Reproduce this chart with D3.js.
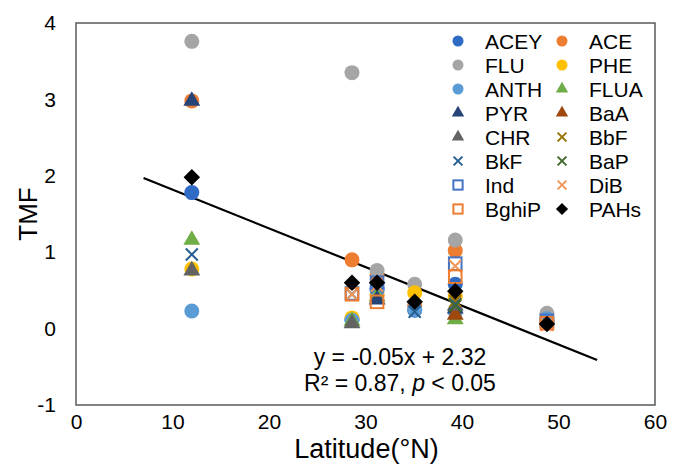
<!DOCTYPE html>
<html>
<head>
<meta charset="utf-8">
<script src="https://cdn.jsdelivr.net/npm/d3@7"></script>
<style>
  body { margin: 0; background: #fff; }
  text { font-family: "Liberation Sans", Arial, sans-serif; fill: #000; }
</style>
</head>
<body>
<div id="chart"></div>
<script>
// latitude of each site (°N)
const latitudes = [12, 28.6, 31.2, 35.1, 39.3, 48.8]

const seriesNames = ["ACEY", "ACE", "FLU", "PHE", "ANTH", "FLUA", "PYR", "BaA",
  "CHR", "BbF", "BkF", "BaP", "Ind", "DiB", "BghiP", "PAHs"]

// TMF per site, null = not shown
const ACEY  = [1.78, 0.12, 0.52, 0.24, 0.58, 0.10]
const ACE   = [2.98, 0.90, 0.70, 0.30, 1.02, 0.08]
const FLU   = [3.76, 3.35, 0.76, 0.58, 1.16, 0.20]
const PHE   = [0.78, 0.14, 0.45, 0.47, 0.42, null]
const ANTH  = [0.23, 0.11, 0.50, 0.25, 0.22, 0.13]
const FLUA  = [1.16, 0.10, 0.42, null, 0.12, null]
const PYR   = [2.98, null, 0.38, null, 0.26, null]
const BaA   = [null, null, null, null, 0.18, null]
const CHR   = [0.76, 0.07, null, null, 0.30, null]
const BbF   = [null, null, null, null, 0.36, null]
const BkF   = [0.97, 0.45, 0.55, 0.22, 0.32, null]
const BaP   = [null, null, null, null, 0.30, null]
const Ind   = [null, 0.46, 0.60, null, 0.85, 0.10]
const DiB   = [null, 0.45, 0.56, null, 0.82, 0.05]
const BghiP = [null, 0.45, 0.35, null, 0.68, 0.07]
const PAHs  = [1.98, 0.60, 0.60, 0.35, 0.49, 0.06]

const seriesValues = [ACEY, ACE, FLU, PHE, ANTH, FLUA, PYR, BaA, CHR, BbF, BkF, BaP, Ind, DiB, BghiP, PAHs]

// trend line ends
const trendX = [7, 54]
const trendY = [1.97, -0.41]

const xTicks = [0, 10, 20, 30, 40, 50, 60]
const yTicks = [-1, 0, 1, 2, 3, 4]

const style = {
  ACEY:  {shape: "circle",   color: "#2F6BC4"},
  ACE:   {shape: "circle",   color: "#ED7D31"},
  FLU:   {shape: "circle",   color: "#A5A5A5"},
  PHE:   {shape: "circle",   color: "#FFC000"},
  ANTH:  {shape: "circle",   color: "#5B9BD5"},
  FLUA:  {shape: "triangle", color: "#70AD47"},
  PYR:   {shape: "triangle", color: "#264478"},
  BaA:   {shape: "triangle", color: "#9E480E"},
  CHR:   {shape: "triangle", color: "#636363"},
  BbF:   {shape: "x",        color: "#997300"},
  BkF:   {shape: "x",        color: "#255E91"},
  BaP:   {shape: "x",        color: "#43682B"},
  Ind:   {shape: "square",   color: "#4472C4"},
  DiB:   {shape: "x",        color: "#F1975A"},
  BghiP: {shape: "square",   color: "#ED7D31"},
  PAHs:  {shape: "diamond",  color: "#000000"}
}

const width = 673
const height = 464
const margin = {left: 76, right: 18, top: 23, bottom: 59}

const svg = d3.select("#chart")
  .append("svg")
  .attr("width", width)
  .attr("height", height)

const x = d3.scaleLinear().domain([0, 60]).range([margin.left, width - margin.right])
const y = d3.scaleLinear().domain([-1, 4]).range([height - margin.bottom, margin.top])

// frame
svg.append("rect")
  .attr("x", x(0)).attr("y", y(4))
  .attr("width", x(60) - x(0)).attr("height", y(-1) - y(4))
  .attr("fill", "none").attr("stroke", "#595959").attr("stroke-width", 1.5)

// axes, labels only (plain hyphen for negatives like the original)
const xAxis = svg.append("g")
  .attr("transform", `translate(0,${y(-1)})`)
  .call(d3.axisBottom(x).tickValues(xTicks).tickFormat(d => String(d)).tickSize(0).tickPadding(9))
xAxis.select(".domain").remove()
xAxis.selectAll("text").style("font-size", "21px").attr("font-family", null)

const yAxis = svg.append("g")
  .attr("transform", `translate(${x(0)},0)`)
  .call(d3.axisLeft(y).tickValues(yTicks).tickFormat(d => String(d)).tickSize(0).tickPadding(20))
yAxis.select(".domain").remove()
yAxis.selectAll("text").style("font-size", "21px").attr("font-family", null)

svg.append("text")
  .attr("transform", `translate(37,${(y(4) + y(-1)) / 2}) rotate(-90)`)
  .attr("text-anchor", "middle")
  .style("font-size", "26px")
  .text("TMF")

svg.append("text")
  .attr("x", (x(0) + x(60)) / 2 + 1).attr("y", 458)
  .attr("text-anchor", "middle")
  .style("font-size", "27px")
  .text("Latitude(°N)")

// trend line
svg.append("line")
  .attr("x1", x(trendX[0])).attr("y1", y(trendY[0]))
  .attr("x2", x(trendX[1])).attr("y2", y(trendY[1]))
  .attr("stroke", "#000").attr("stroke-width", 2.2)

function drawMarker(g, shape, color, s) {
  if (shape === "circle") {
    g.append("circle").attr("r", s * 0.5).attr("fill", color)
  } else if (shape === "triangle") {
    g.append("path").attr("d", d3.symbol(d3.symbolTriangle, s * s * 0.55)).attr("fill", color)
  } else if (shape === "square") {
    const h = s * 0.42
    g.append("rect").attr("x", -h).attr("y", -h).attr("width", 2 * h).attr("height", 2 * h)
      .attr("fill", "none").attr("stroke", color).attr("stroke-width", 2)
  } else if (shape === "x") {
    const h = s * 0.4
    g.append("path").attr("d", `M${-h},${-h}L${h},${h}M${-h},${h}L${h},${-h}`)
      .attr("fill", "none").attr("stroke", color).attr("stroke-width", 2)
  } else if (shape === "diamond") {
    const h = s * 0.55
    g.append("path").attr("d", `M0,${-h}L${h},0L0,${h}L${-h},0Z`).attr("fill", color)
  }
}

// points
const points = svg.append("g")
seriesNames.forEach((name, i) => {
  seriesValues[i].forEach((v, j) => {
    if (v === null) return
    const g = points.append("g").attr("transform", `translate(${x(latitudes[j])},${y(v)})`)
    drawMarker(g, style[name].shape, style[name].color, 15)
  })
})

// equation
svg.append("text")
  .attr("x", 400).attr("y", 365)
  .attr("text-anchor", "middle")
  .style("font-size", "23px")
  .text("y = -0.05x + 2.32")

const r2 = svg.append("text")
  .attr("x", 400).attr("y", 391)
  .attr("text-anchor", "middle")
  .style("font-size", "23px")
r2.append("tspan").text("R² = 0.87, ")
r2.append("tspan").style("font-style", "italic").text("p")
r2.append("tspan").text(" < 0.05")

// legend
const legend = svg.append("g")
seriesNames.forEach((name, i) => {
  const col = i % 2
  const row = Math.floor(i / 2)
  const lx = col === 0 ? 458 : 562
  const ly = 41 + row * 24
  const g = legend.append("g").attr("transform", `translate(${lx},${ly})`)
  drawMarker(g, style[name].shape, style[name].color, 11)
  legend.append("text")
    .attr("x", lx + 27).attr("y", ly + 7.5)
    .style("font-size", "21px")
    .text(name)
})
</script>
</body>
</html>
